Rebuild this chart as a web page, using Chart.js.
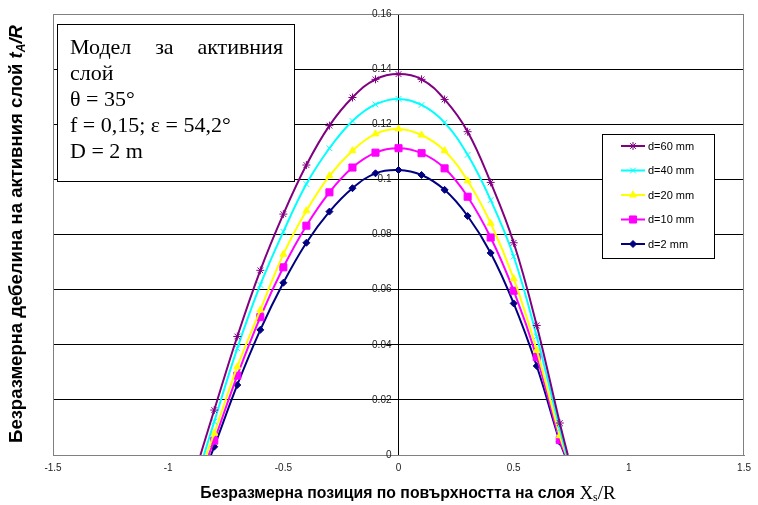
<!DOCTYPE html>
<html>
<head>
<meta charset="utf-8">
<script src="https://cdn.jsdelivr.net/npm/chart.js@4.4.1/dist/chart.umd.min.js"></script>
<style>
  html, body { margin: 0; padding: 0; background: #fff; }
  #wrap { width: 758px; height: 505px; position: relative; }
</style>
</head>
<body>
<div id="wrap"><canvas id="chart"></canvas></div>
<script>
// values
var seriesNames = ["d=60 mm", "d=40 mm", "d=20 mm", "d=10 mm", "d=2 mm"];

var xD60 = [-0.86, -0.8, -0.7, -0.6, -0.5, -0.4, -0.3, -0.2, -0.1, 0, 0.1, 0.2, 0.3, 0.4, 0.5, 0.6, 0.7, 0.735];
var yD60 = [0, 0.0163, 0.043, 0.067, 0.0874, 0.1052, 0.1195, 0.1297, 0.1363, 0.1382, 0.1363, 0.129, 0.1173, 0.0989, 0.077, 0.047, 0.0116, 0];

var xD40 = [-0.845, -0.8, -0.7, -0.6, -0.5, -0.4, -0.3, -0.2, -0.1, 0, 0.1, 0.2, 0.3, 0.4, 0.5, 0.6, 0.7, 0.73];
var yD40 = [0, 0.0121, 0.0387, 0.0617, 0.081, 0.0983, 0.1113, 0.1212, 0.1272, 0.1292, 0.127, 0.1206, 0.1089, 0.0925, 0.072, 0.043, 0.0095, 0];

var xD20 = [-0.835, -0.8, -0.7, -0.6, -0.5, -0.4, -0.3, -0.2, -0.1, 0, 0.1, 0.2, 0.3, 0.4, 0.5, 0.6, 0.7, 0.728];
var yD20 = [0, 0.0079, 0.032, 0.0526, 0.0728, 0.0886, 0.1013, 0.1104, 0.1165, 0.1183, 0.1161, 0.1104, 0.0995, 0.0841, 0.064, 0.038, 0.007, 0];

var xD10 = [-0.824, -0.8, -0.7, -0.6, -0.5, -0.4, -0.3, -0.2, -0.1, 0, 0.1, 0.2, 0.3, 0.4, 0.5, 0.6, 0.7, 0.725];
var yD10 = [0, 0.0052, 0.0288, 0.05, 0.0681, 0.0832, 0.0953, 0.1043, 0.1097, 0.1113, 0.1095, 0.104, 0.0937, 0.0789, 0.0596, 0.0355, 0.0054, 0];

var xD2 = [-0.814, -0.8, -0.7, -0.6, -0.5, -0.4, -0.3, -0.2, -0.1, 0, 0.1, 0.2, 0.3, 0.4, 0.5, 0.6, 0.7, 0.722];
var yD2 = [0, 0.003, 0.0254, 0.0454, 0.0625, 0.077, 0.0883, 0.0968, 0.1022, 0.1034, 0.1016, 0.0962, 0.0867, 0.0733, 0.055, 0.0323, 0.0048, 0];

var xTickValues = [-1.5, -1, -0.5, 0, 0.5, 1, 1.5];
var xTickLabels = ["-1.5", "-1", "-0.5", "0", "0.5", "1", "1.5"];
var yTickValues = [0, 0.02, 0.04, 0.06, 0.08, 0.1, 0.12, 0.14, 0.16];
var yTickLabels = ["0", "0.02", "0.04", "0.06", "0.08", "0.1", "0.12", "0.14", "0.16"];

var boxLines = ["Модел за активния", "слой", "θ = 35°", "f = 0,15; ε = 54,2°", "D = 2 m"];

var ARIAL = 'Arial, "Liberation Sans", sans-serif';
var TIMES = '"Times New Roman", "Liberation Serif", serif';

function pts(xs, ys) {
  return xs.map(function (x, i) { return { x: x, y: ys[i] }; });
}

function makeSet(i, xs, ys, color, style, radius) {
  return {
    label: seriesNames[i],
    data: pts(xs, ys),
    borderColor: color,
    backgroundColor: color,
    borderWidth: 2,
    tension: 0.4,
    pointStyle: style,
    pointBorderColor: color,
    pointBackgroundColor: color,
    pointBorderWidth: 1,
    // the ends sit on the axis without a marker
    pointRadius: function (c) { return c.raw && c.raw.y === 0 ? 0 : radius; },
    fill: false
  };
}

var extras = {
  id: "extras",
  beforeDatasetsDraw: function (chart) {
    var a = chart.chartArea, ctx = chart.ctx;
    ctx.save();
    ctx.strokeStyle = "#808080";
    ctx.lineWidth = 1;
    ctx.strokeRect(Math.round(a.left) + 0.5, Math.round(a.top) + 0.5, Math.round(a.right - a.left) - 1, Math.round(a.bottom - a.top));
    ctx.restore();
  },
  afterDraw: function (chart) {
    var ctx = chart.ctx, xs = chart.scales.x, ys = chart.scales.y;
    var x0 = xs.getPixelForValue(0);
    ctx.save();

    // y tick labels next to the axis at x = 0
    ctx.font = "10px " + ARIAL;
    ctx.fillStyle = "#222";
    ctx.textAlign = "right";
    ctx.textBaseline = "middle";
    yTickValues.forEach(function (v, i) {
      ctx.fillText(yTickLabels[i], x0 - 7, ys.getPixelForValue(v));
    });

    // text box
    ctx.fillStyle = "#fff";
    ctx.fillRect(57, 24, 237, 157);
    ctx.strokeStyle = "#000";
    ctx.lineWidth = 1;
    ctx.strokeRect(57.5, 24.5, 237, 157);
    ctx.fillStyle = "#000";
    ctx.font = "22px " + TIMES;
    ctx.textAlign = "left";
    ctx.textBaseline = "alphabetic";
    var words = boxLines[0].split(" ");
    var total = 0;
    words.forEach(function (w) { total += ctx.measureText(w).width; });
    var gap = (283 - 70 - total) / (words.length - 1);
    var wx = 70;
    words.forEach(function (w) { ctx.fillText(w, wx, 54); wx += ctx.measureText(w).width + gap; });
    for (var i = 1; i < boxLines.length; i++) {
      ctx.fillText(boxLines[i], 70, 54 + i * 26);
    }

    // legend
    ctx.fillStyle = "#fff";
    ctx.fillRect(602, 134, 112, 124);
    ctx.strokeStyle = "#000";
    ctx.strokeRect(602.5, 134.5, 112, 124);
    ctx.font = "11px " + ARIAL;
    ctx.textBaseline = "middle";
    chart.data.datasets.forEach(function (ds, k) {
      var ly = 146 + k * 24.5;
      ctx.strokeStyle = ds.borderColor;
      ctx.lineWidth = 2;
      ctx.beginPath();
      ctx.moveTo(621, ly);
      ctx.lineTo(645, ly);
      ctx.stroke();
      ctx.fillStyle = ds.borderColor;
      ctx.lineWidth = 1;
      Chart.helpers.drawPoint(ctx, { pointStyle: ds.pointStyle, rotation: 0, radius: ds._legendRadius, borderWidth: 1 }, 633, ly);
      ctx.fillStyle = "#000";
      ctx.fillText(ds.label, 648, ly + 0.5);
    });

    // axis titles
    function drawParts(parts, cx, cy) {
      var w = 0;
      parts.forEach(function (p) { ctx.font = p.f; p.w = ctx.measureText(p.t).width; w += p.w; });
      var px = cx - w / 2;
      ctx.textAlign = "left";
      ctx.textBaseline = "middle";
      ctx.fillStyle = "#000";
      parts.forEach(function (p) { ctx.font = p.f; ctx.fillText(p.t, px, cy + (p.dy || 0)); px += p.w; });
    }
    drawParts([
      { t: "Безразмерна позиция по повърхността на слоя ", f: "bold 15.8px " + ARIAL },
      { t: "X", f: "19px " + TIMES },
      { t: "s", f: "12px " + TIMES, dy: 4 },
      { t: "/R", f: "19px " + TIMES }
    ], 408, 494);

    ctx.save();
    ctx.translate(17, 234);
    ctx.rotate(-Math.PI / 2);
    drawParts([
      { t: "Безразмерна дебелина на активния слой ", f: "bold 18.5px " + ARIAL },
      { t: "t", f: "italic bold 18.5px " + ARIAL },
      { t: "A", f: "italic bold 12px " + ARIAL, dy: 5 },
      { t: "/R", f: "italic bold 18.5px " + ARIAL }
    ], 0, 0);
    ctx.restore();

    ctx.restore();
  }
};

var datasets = [
  makeSet(0, xD60, yD60, "#800080", "star", 4),
  makeSet(1, xD40, yD40, "#00FFFF", "crossRot", 4),
  makeSet(2, xD20, yD20, "#FFFF00", "triangle", 4),
  makeSet(3, xD10, yD10, "#FF00FF", "rect", 5),
  makeSet(4, xD2, yD2, "#000080", "rectRot", 3.5)
];
[4, 4, 4, 5, 3.5].forEach(function (r, i) { datasets[i]._legendRadius = r; });

new Chart(document.getElementById("chart").getContext("2d"), {
  type: "line",
  data: { datasets: datasets },
  options: {
    responsive: true,
    maintainAspectRatio: false,
    animation: false,
    layout: { padding: { left: 53, right: 13, top: 14, bottom: 24 } },
    plugins: { legend: { display: false }, tooltip: { enabled: false } },
    scales: {
      x: {
        type: "linear",
        min: -1.5,
        max: 1.5,
        afterBuildTicks: function (s) { s.ticks = xTickValues.map(function (v) { return { value: v }; }); },
        grid: { display: false, drawTicks: false },
        border: { display: true, color: "#808080" },
        ticks: {
          padding: 7,
          color: "#222",
          maxRotation: 0,
          font: { size: 10, family: ARIAL },
          callback: function (v, i) { return xTickLabels[i]; }
        }
      },
      y: {
        type: "linear",
        position: { x: 0 },
        min: 0,
        max: 0.16,
        afterBuildTicks: function (s) { s.ticks = yTickValues.map(function (v) { return { value: v }; }); },
        grid: {
          color: function (c) { return (c.tick && (c.tick.value === 0 || c.tick.value === 0.16)) ? "#808080" : "#000"; },
          tickColor: "#000",
          tickLength: 4,
          lineWidth: 1
        },
        border: { display: true, color: "#000" },
        ticks: { display: false }
      }
    }
  },
  plugins: [extras]
});
</script>
</body>
</html>
